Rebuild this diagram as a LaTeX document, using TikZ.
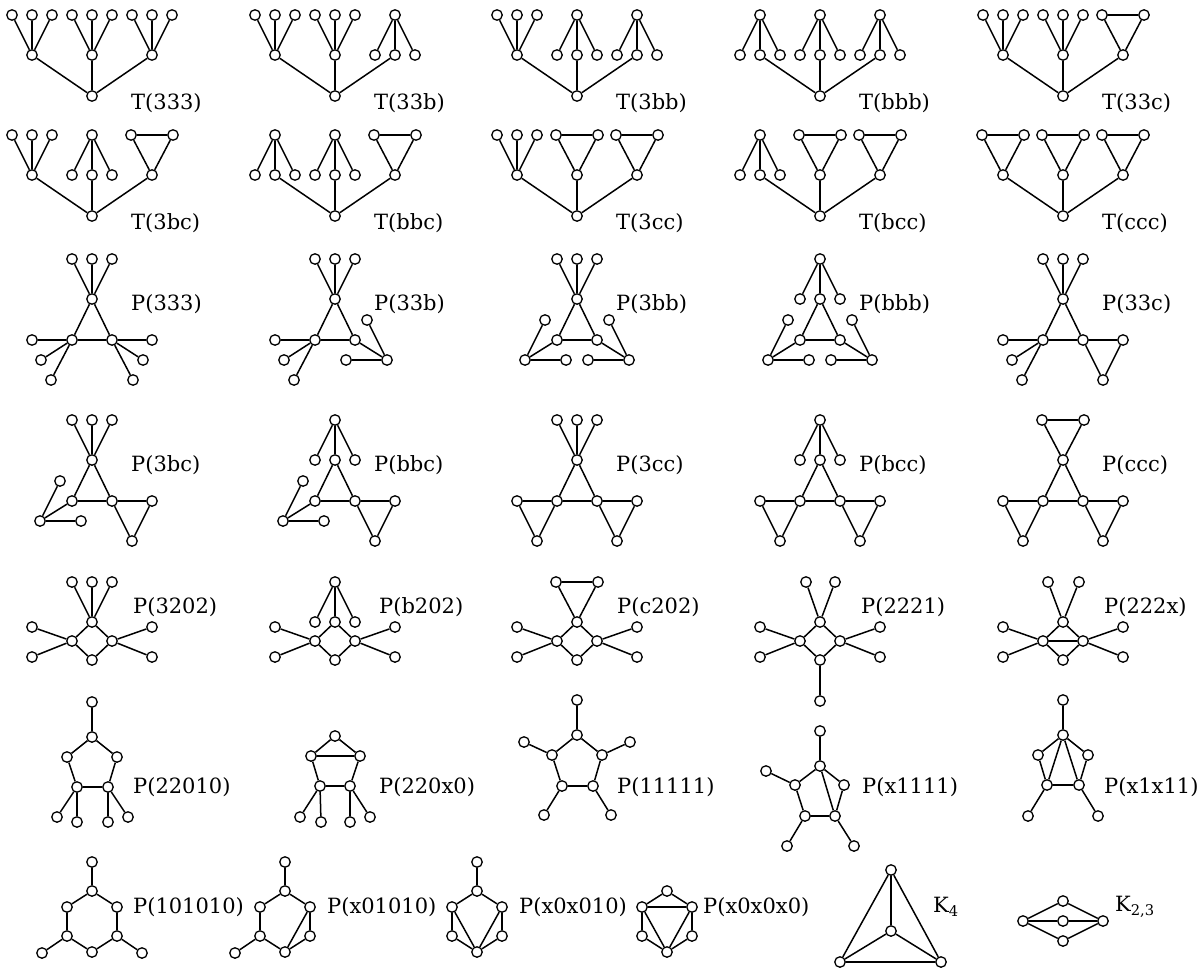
\documentclass[tikz,border=0pt]{standalone}
\usepackage{fontspec}
\setmainfont{DejaVu Serif}
\usetikzlibrary{calc}
\tikzset{
  v/.style={circle,draw,fill=white,inner sep=0pt,minimum size=10.5pt,line width=1.3pt},
  e/.style={line width=1.5pt},
  lab/.style={anchor=west,inner sep=0pt,font=\fontsize{21}{25}\selectfont},
}
\newcommand{\V}[2]{\node[v] (#1) at (#2) {};}
\newcommand{\Vr}[3]{\node[v] (#1) at ($(#2)+(#3)$) {};}
\newcommand{\E}[1]{\foreach \nA/\nB in {#1} {\draw[e] (\nA)--(\nB);}}
% attachments pointing up
\newcommand{\attUt}[1]{\Vr{#1-1}{#1}{-20,-40}\Vr{#1-2}{#1}{0,-40}\Vr{#1-3}{#1}{20,-40}\E{#1/#1-1,#1/#1-2,#1/#1-3}}
\newcommand{\attUb}[1]{\Vr{#1-1}{#1}{-20,0}\Vr{#1-2}{#1}{0,-40}\Vr{#1-3}{#1}{20,0}\E{#1/#1-2,#1-2/#1-1,#1-2/#1-3}}
\newcommand{\attUc}[1]{\Vr{#1-1}{#1}{-21,-40}\Vr{#1-3}{#1}{21,-40}\E{#1/#1-1,#1/#1-3,#1-1/#1-3}}
% attachments pointing lower left
\newcommand{\attLt}[1]{\Vr{#1-1}{#1}{-40,0}\Vr{#1-2}{#1}{-31,20}\Vr{#1-3}{#1}{-21,40}\E{#1/#1-1,#1/#1-2,#1/#1-3}}
\newcommand{\attLb}[1]{\Vr{#1-1}{#1}{-12,-20}\Vr{#1-2}{#1}{-32,20}\Vr{#1-3}{#1}{9,20}\E{#1/#1-2,#1-2/#1-1,#1-2/#1-3}}
\newcommand{\attLc}[1]{\Vr{#1-1}{#1}{-40,0}\Vr{#1-3}{#1}{-20,40}\E{#1/#1-1,#1/#1-3,#1-1/#1-3}}
% attachments pointing lower right
\newcommand{\attRt}[1]{\Vr{#1-1}{#1}{40,0}\Vr{#1-2}{#1}{31,20}\Vr{#1-3}{#1}{21,40}\E{#1/#1-1,#1/#1-2,#1/#1-3}}
\newcommand{\attRb}[1]{\Vr{#1-1}{#1}{12,-20}\Vr{#1-2}{#1}{32,20}\Vr{#1-3}{#1}{-9,20}\E{#1/#1-2,#1-2/#1-1,#1-2/#1-3}}
\newcommand{\attRc}[1]{\Vr{#1-1}{#1}{40,0}\Vr{#1-3}{#1}{20,40}\E{#1/#1-1,#1/#1-3,#1-1/#1-3}}
% tree graphs
\newcommand{\Tg}[7]{%
  \V{#1}{#2,#3}%
  \Vr{#1m1}{#1}{-60,-41}\Vr{#1m2}{#1}{0,-41}\Vr{#1m3}{#1}{60,-41}%
  \E{#1/#1m1,#1/#1m2,#1/#1m3}%
  \csname attU#4\endcsname{#1m1}\csname attU#5\endcsname{#1m2}\csname attU#6\endcsname{#1m3}%
  \node[lab] (#1lab) at ($(#1)+(39,7)$) {#7};}
% triangle graphs
\newcommand{\Pg}[7]{%
  \V{#1}{#2,#3}\Vr{#1L}{#1}{-20,41}\Vr{#1R}{#1}{20,41}%
  \E{#1/#1L,#1/#1R,#1L/#1R}%
  \csname attU#4\endcsname{#1}\csname attL#5\endcsname{#1L}\csname attR#6\endcsname{#1R}%
  \node[lab] (#1lab) at ($(#1)+(39,5)$) {#7};}
% square graphs
\newcommand{\Sq}[3]{%
  \V{#1}{#2,#3}\Vr{#1L}{#1}{-20,19}\Vr{#1R}{#1}{20,19}\Vr{#1B}{#1}{0,38}%
  \E{#1/#1L,#1/#1R,#1L/#1B,#1R/#1B}%
  \Vr{#1L-1}{#1L}{-40,-14}\Vr{#1L-2}{#1L}{-40,16}\Vr{#1R-1}{#1R}{40,-14}\Vr{#1R-2}{#1R}{40,16}%
  \E{#1L/#1L-1,#1L/#1L-2,#1R/#1R-1,#1R/#1R-2}}
% hexagon graphs
\newcommand{\Hx}[3]{%
  \V{#1}{#2,#3}\Vr{#1UR}{#1}{25,16}\Vr{#1LR}{#1}{25,45}\Vr{#1B}{#1}{0,61}\Vr{#1LL}{#1}{-25,45}\Vr{#1UL}{#1}{-25,16}%
  \E{#1/#1UR,#1UR/#1LR,#1LR/#1B,#1B/#1LL,#1LL/#1UL,#1UL/#1}}
\begin{document}
\begin{tikzpicture}[x=1pt,y=-1pt]
\useasboundingbox (0,0) rectangle (1203,969);
\fill[white] (0,0) rectangle (1203,969);
% Row 1 and 2
\Tg{ta}{92}{96}{t}{t}{t}{T(333)}
\Tg{tb}{335}{96}{t}{t}{b}{T(33b)}
\Tg{tc}{577}{96}{t}{b}{b}{T(3bb)}
\Tg{td}{820}{96}{b}{b}{b}{T(bbb)}
\Tg{te}{1063}{96}{t}{t}{c}{T(33c)}
\Tg{tf}{92}{216}{t}{b}{c}{T(3bc)}
\Tg{tg}{335}{216}{b}{b}{c}{T(bbc)}
\Tg{th}{577}{216}{t}{c}{c}{T(3cc)}
\Tg{ti}{820}{216}{b}{c}{c}{T(bcc)}
\Tg{tj}{1063}{216}{c}{c}{c}{T(ccc)}
% Row 3 and 4
\Pg{pa}{92}{299}{t}{t}{t}{P(333)}
\Pg{pb}{335}{299}{t}{t}{b}{P(33b)}
\Pg{pc}{577}{299}{t}{b}{b}{P(3bb)}
\Pg{pd}{820}{299}{b}{b}{b}{P(bbb)}
\Pg{pe}{1063}{299}{t}{t}{c}{P(33c)}
\Pg{pf}{92}{460}{t}{b}{c}{P(3bc)}
\Pg{pg}{335}{460}{b}{b}{c}{P(bbc)}
\Pg{ph}{577}{460}{t}{c}{c}{P(3cc)}
\Pg{pi}{820}{460}{b}{c}{c}{P(bcc)}
\Pg{pj}{1063}{460}{c}{c}{c}{P(ccc)}
% Row 5
\Sq{qa}{92}{622}\attUt{qa}
\node[lab] (qalab) at (133,607) {P(3202)};
\Sq{qb}{335}{622}\attUb{qb}
\node[lab] (qblab) at (379,607) {P(b202)};
\Sq{qc}{577}{622}\attUc{qc}
\node[lab] (qclab) at (617,607) {P(c202)};
\Sq{qd}{820}{622}
\Vr{qd-1}{qd}{-14,-40}\Vr{qd-2}{qd}{15,-40}\Vr{qdB-1}{qdB}{0,41}
\E{qd/qd-1,qd/qd-2,qdB/qdB-1}
\node[lab] (qdlab) at (861,607) {P(2221)};
\Sq{qe}{1063}{622}
\Vr{qe-1}{qe}{-15,-40}\Vr{qe-2}{qe}{16,-40}
\E{qe/qe-1,qe/qe-2,qeL/qeR}
\node[lab] (qelab) at (1104,607) {P(222x)};
% Row 6
% P(22010)
\V{ra}{92,737}\V{raUL}{67,757}\V{raUR}{117,757}\V{raLL}{77,787}\V{raLR}{108,787}
\E{ra/raUL,ra/raUR,raUL/raLL,raLL/raLR,raLR/raUR}
\V{ra-t}{92,702}\V{raLL-1}{57,817}\V{raLL-2}{77,822}\V{raLR-1}{108,822}\V{raLR-2}{128,817}
\E{ra/ra-t,raLL/raLL-1,raLL/raLL-2,raLR/raLR-1,raLR/raLR-2}
\node[lab] (ralab) at (133,787) {P(22010)};
% P(220x0)
\V{rb}{335,736}\V{rbUL}{311,756}\V{rbUR}{360,756}\V{rbLL}{320,786}\V{rbLR}{350,786}
\E{rb/rbUL,rb/rbUR,rbUL/rbLL,rbLL/rbLR,rbLR/rbUR,rbUL/rbUR}
\V{rbLL-1}{300,817}\V{rbLL-2}{321,822}\V{rbLR-1}{350,822}\V{rbLR-2}{370,817}
\E{rbLL/rbLL-1,rbLL/rbLL-2,rbLR/rbLR-1,rbLR/rbLR-2}
\node[lab] (rblab) at (379,787) {P(220x0)};
% P(11111)
\V{rc}{577,735}\V{rcUL}{552,755}\V{rcUR}{602,755}\V{rcLL}{562,786}\V{rcLR}{593,786}
\E{rc/rcUL,rc/rcUR,rcUL/rcLL,rcLL/rcLR,rcLR/rcUR}
\V{rc-t}{577,700}\V{rcUL-1}{524,742}\V{rcUR-1}{630,742}\V{rcLL-1}{544,815}\V{rcLR-1}{611,815}
\E{rc/rc-t,rcUL/rcUL-1,rcUR/rcUR-1,rcLL/rcLL-1,rcLR/rcLR-1}
\node[lab] (rclab) at (617,787) {P(11111)};
% P(x1111)
\V{rd}{820,766}\V{rdUL}{795,785}\V{rdUR}{844,785}\V{rdLL}{805,816}\V{rdLR}{835,816}
\E{rd/rdUL,rd/rdUR,rdUL/rdLL,rdLL/rdLR,rdLR/rdUR,rd/rdLR}
\V{rd-t}{820,731}\V{rdUL-1}{766,771}\V{rdLL-1}{787,846}\V{rdLR-1}{854,846}
\E{rd/rd-t,rdUL/rdUL-1,rdLL/rdLL-1,rdLR/rdLR-1}
\node[lab] (rdlab) at (862,787) {P(x1111)};
% P(x1x11)
\V{re}{1063,735}\V{reUL}{1038,755}\V{reUR}{1088,755}\V{reLL}{1047,785}\V{reLR}{1079,785}
\E{re/reUL,re/reUR,reUL/reLL,reLL/reLR,reLR/reUR,re/reLL,re/reLR}
\V{re-t}{1063,700}\V{reLL-1}{1028,816}\V{reLR-1}{1098,816}
\E{re/re-t,reLL/reLL-1,reLR/reLR-1}
\node[lab] (relab) at (1104,787) {P(x1x11)};
% Row 7
\Hx{ha}{92}{891}
\Vr{ha-t}{ha}{0,-29}\Vr{haLL-1}{haLL}{-25,17}\Vr{haLR-1}{haLR}{25,17}
\E{ha/ha-t,haLL/haLL-1,haLR/haLR-1}
\node[lab] (halab) at (133,907) {P(101010)};
\Hx{hb}{285}{891}
\Vr{hb-t}{hb}{0,-29}\Vr{hbLL-1}{hbLL}{-25,17}
\E{hb/hb-t,hbLL/hbLL-1,hbUR/hbB}
\node[lab] (hblab) at (327,907) {P(x01010)};
\Hx{hc}{477}{891}
\Vr{hc-t}{hc}{0,-29}
\E{hc/hc-t,hcUL/hcB,hcUR/hcB}
\node[lab] (hclab) at (519,907) {P(x0x010)};
\Hx{hd}{667}{891}
\E{hdUL/hdUR,hdUL/hdB,hdUR/hdB}
\node[lab] (hdlab) at (703,907) {P(x0x0x0)};
% K4
\V{ka}{891,870}\V{kc}{891,931}\V{kl}{840,962}\V{kr}{941,962}
\E{ka/kc,ka/kl,ka/kr,kc/kl,kc/kr,kl/kr}
\node[lab] (kalab) at (933,907) {K\textsubscript{4}};
% K23
\V{ma}{1023,921}\V{mt}{1063,901}\V{mm}{1063,921}\V{mb}{1063,941}\V{mr}{1103,921}
\E{ma/mt,ma/mm,ma/mb,mr/mt,mr/mm,mr/mb}
\node[lab] (mlab) at (1115,907) {K\textsubscript{2,3}};
\end{tikzpicture}
\end{document}
